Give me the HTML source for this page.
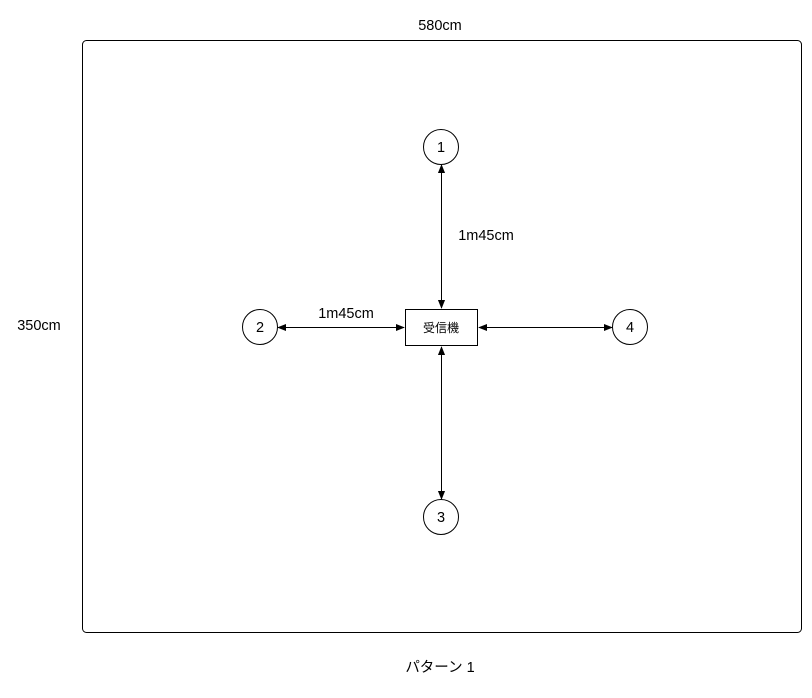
<!DOCTYPE html>
<html><head><meta charset="utf-8"><style>
html,body{margin:0;padding:0;background:#fff;width:812px;height:698px;overflow:hidden}
svg text{font-family:"Liberation Sans","Noto Sans CJK JP",sans-serif;fill:#000}
</style></head><body>
<svg width="812" height="698" viewBox="0 0 812 698" xmlns="http://www.w3.org/2000/svg">
<defs>
<marker id="a" viewBox="0 0 10 10" refX="9" refY="5" markerWidth="9" markerHeight="9" orient="auto-start-reverse" markerUnits="userSpaceOnUse">
<path d="M0,1 L10,5 L0,9 Z" fill="#000"/></marker>
</defs>
<rect x="82.5" y="40.5" width="719" height="592" rx="4" fill="none" stroke="#000" stroke-width="1"/>
<text x="440" y="30" font-size="14.5" text-anchor="middle">580cm</text>
<text x="39" y="330" font-size="14.5" text-anchor="middle">350cm</text>
<text x="440" y="672" font-size="14.5" text-anchor="middle">パターン 1</text>
<rect x="405.5" y="309.5" width="72" height="36" fill="#fff" stroke="#000"/>
<text x="441" y="332" font-size="12" text-anchor="middle">受信機</text>
<g fill="#fff" stroke="#000">
<circle cx="441" cy="147" r="17.5"/>
<circle cx="260" cy="327" r="17.5"/>
<circle cx="630" cy="327" r="17.5"/>
<circle cx="441" cy="517" r="17.5"/>
</g>
<g font-size="14.5" text-anchor="middle">
<text x="441" y="152">1</text>
<text x="260" y="332">2</text>
<text x="630" y="332">4</text>
<text x="441" y="522">3</text>
</g>
<g stroke="#000" stroke-width="1" marker-start="url(#a)" marker-end="url(#a)">
<line x1="441.5" y1="165" x2="441.5" y2="308"/>
<line x1="278" y1="327.5" x2="404" y2="327.5"/>
<line x1="479" y1="327.5" x2="612" y2="327.5"/>
<line x1="441.5" y1="347" x2="441.5" y2="499"/>
</g>
<text x="486" y="240" font-size="14.5" text-anchor="middle">1m45cm</text>
<text x="346" y="318" font-size="14.5" text-anchor="middle">1m45cm</text>
</svg>
</body></html>
